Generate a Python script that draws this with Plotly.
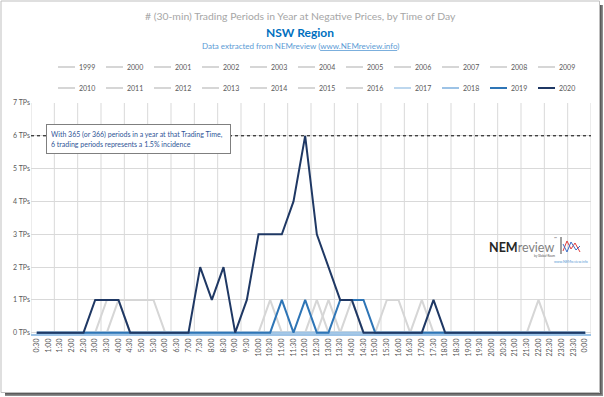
import plotly.graph_objects as go

# ---------------- data ----------------
time_labels = ["0:30", "1:00", "1:30", "2:00", "2:30", "3:00", "3:30", "4:00", "4:30", "5:00", "5:30", "6:00",
               "6:30", "7:00", "7:30", "8:00", "8:30", "9:00", "9:30", "10:00", "10:30", "11:00", "11:30", "12:00",
               "12:30", "13:00", "13:30", "14:00", "14:30", "15:00", "15:30", "16:00", "16:30", "17:00", "17:30", "18:00",
               "18:30", "19:00", "19:30", "20:00", "20:30", "21:00", "21:30", "22:00", "22:30", "23:00", "23:30", "0:00"]

years = ["1999", "2000", "2001", "2002", "2003", "2004", "2005", "2006", "2007", "2008", "2009",
         "2010", "2011", "2012", "2013", "2014", "2015", "2016", "2017", "2018", "2019", "2020"]

y1999 = [0,0,0,0,0,0,0,0,0,0,0,0, 0,0,0,0,0,0,0,0,0,0,0,0, 0,0,0,0,0,0,0,0,0,0,0,0, 0,0,0,0,0,0,0,0,0,0,0,0]
y2000 = [0,0,0,0,0,0,0,0,0,0,0,0, 0,0,0,0,0,0,0,0,0,0,0,0, 0,0,0,0,0,0,0,0,0,0,0,0, 0,0,0,0,0,0,0,0,0,0,0,0]
y2001 = [0,0,0,0,0,0,0,0,0,0,0,0, 0,0,0,0,0,0,0,0,0,0,0,0, 0,0,0,0,0,0,0,0,0,0,0,0, 0,0,0,0,0,0,0,0,0,0,0,0]
y2002 = [0,0,0,0,0,0,0,0,0,0,0,0, 0,0,0,0,0,0,0,0,0,0,0,0, 0,0,0,0,0,0,0,0,0,0,0,0, 0,0,0,0,0,0,0,0,0,0,0,0]
y2003 = [0,0,0,0,0,0,0,0,0,0,0,0, 0,0,0,0,0,0,0,0,0,0,0,0, 0,0,0,0,0,0,0,0,0,0,0,0, 0,0,0,0,0,0,0,0,0,0,0,0]
y2004 = [0,0,0,0,0,0,0,0,0,0,0,0, 0,0,0,0,0,0,0,0,0,0,0,0, 0,0,0,0,0,0,0,0,0,0,0,0, 0,0,0,0,0,0,0,0,0,0,0,0]
y2005 = [0,0,0,0,0,0,0,0,0,0,0,0, 0,0,0,0,0,0,0,0,0,0,0,0, 0,0,0,0,0,0,0,0,0,0,0,0, 0,0,0,0,0,0,0,0,0,0,0,0]
y2006 = [0,0,0,0,0,0,0,0,0,0,0,0, 0,0,0,0,0,0,0,0,0,0,0,0, 0,0,0,0,0,0,0,0,0,0,0,0, 0,0,0,0,0,0,0,0,0,0,0,0]
y2007 = [0,0,0,0,0,0,0,0,0,0,0,0, 0,0,0,0,0,0,0,0,0,0,0,0, 0,0,0,0,0,0,0,0,0,0,0,0, 0,0,0,0,0,0,0,0,0,0,0,0]
y2008 = [0,0,0,0,0,0,1,1,1,1,1,0, 0,0,0,0,0,0,0,0,0,0,0,0, 0,0,0,0,0,0,0,0,0,0,0,0, 0,0,0,0,0,0,0,0,0,0,0,0]
y2009 = [0,0,0,0,0,0,0,1,0,0,0,0, 0,0,0,0,0,0,0,0,0,0,0,0, 0,0,0,0,0,0,0,0,0,0,0,0, 0,0,0,0,0,0,0,0,0,0,0,0]
y2010 = [0,0,0,0,0,0,0,0,0,0,0,0, 0,0,0,0,0,0,0,0,0,0,0,0, 0,0,0,0,0,0,0,0,0,0,0,0, 0,0,0,0,0,0,0,0,0,0,0,0]
y2011 = [0,0,0,0,0,0,0,0,0,0,0,0, 0,0,0,0,0,0,0,0,0,0,0,0, 0,0,0,0,0,0,0,0,0,0,0,0, 0,0,0,0,0,0,0,0,0,0,0,0]
y2012 = [0,0,0,0,0,0,0,0,0,0,0,0, 0,0,0,0,0,0,0,0,0,0,0,0, 0,0,0,0,0,0,0,0,0,0,0,0, 0,0,0,0,0,0,0,0,0,0,0,0]
y2013 = [0,0,0,0,0,0,0,0,0,0,0,0, 0,0,0,0,0,0,0,0,0,0,0,0, 0,0,0,0,0,0,0,0,0,0,0,0, 0,0,0,0,0,0,0,0,0,0,0,0]
y2014 = [0,0,0,0,0,0,0,0,0,0,0,0, 0,0,0,0,0,0,0,0,0,0,0,0, 0,0,0,1,0,0,0,0,0,0,0,0, 0,0,0,0,0,0,0,1,0,0,0,0]
y2015 = [0,0,0,0,0,0,0,0,0,0,0,0, 0,0,0,0,0,0,0,0,0,0,0,0, 0,1,0,0,0,0,0,0,0,1,0,0, 0,0,0,0,0,0,0,0,0,0,0,0]
y2016 = [0,0,0,0,0,0,0,0,0,0,0,0, 0,0,0,0,0,0,0,0,1,0,0,0, 1,0,0,0,0,0,1,1,0,0,0,0, 0,0,0,0,0,0,0,0,0,0,0,0]
y2017 = [0,0,0,0,0,0,0,0,0,0,0,0, 0,0,0,0,0,0,0,0,0,0,0,0, 0,0,0,0,0,0,0,0,0,0,0,0, 0,0,0,0,0,0,0,0,0,0,0,0]
y2018 = [0,0,0,0,0,0,0,0,0,0,0,0, 0,0,0,0,0,0,0,0,0,0,0,0, 0,0,0,0,0,0,0,0,0,0,0,0, 0,0,0,0,0,0,0,0,0,0,0,0]
y2019 = [0,0,0,0,0,0,0,0,0,0,0,0, 0,0,0,0,0,0,0,0,0,1,0,1, 0,0,1,1,1,0,0,0,0,0,0,0, 0,0,0,0,0,0,0,0,0,0,0,0]
y2020 = [0,0,0,0,0,1,1,1,0,0,0,0, 0,0,2,1,2,0,1,3,3,3,4,6, 3,2,1,1,0,0,0,0,0,0,1,0, 0,0,0,0,0,0,0,0,0,0,0,0]

y_tick_values = [0, 1, 2, 3, 4, 5, 6, 7]
y_tick_labels = ["0 TPs", "1 TPs", "2 TPs", "3 TPs", "4 TPs", "5 TPs", "6 TPs", "7 TPs"]
reference_level = 6

series_values = [y1999, y2000, y2001, y2002, y2003, y2004, y2005, y2006, y2007, y2008, y2009,
                 y2010, y2011, y2012, y2013, y2014, y2015, y2016, y2017, y2018, y2019, y2020]

# ---------------- styles ----------------
GRAY = "#D6D6D6"
colors = [GRAY] * 18 + ["#BDD7EE", "#9DC3E6", "#2E75B6", "#1F3864"]
FONT = "Lato"

W, H = 604, 397
ML, MR, MT, MB = 31, 13, 103, 63
PW = W - ML - MR
PH = H - MT - MB


def px2x(px):
    return (px - ML) / PW


def py2y(py):
    return (H - MB - py) / PH


cat_pos = list(range(len(time_labels)))

fig = go.Figure()
for name, vals, col in zip(years, series_values, colors):
    fig.add_trace(go.Scatter(
        x=cat_pos, y=vals, name=name, mode="lines",
        line=dict(color=col, width=2),
        showlegend=False, hoverinfo="y+name",
    ))

shapes = []
annotations = []

# vertical gridlines every two categories (at category boundaries)
for k in range(0, len(time_labels) + 1, 2):
    b = k - 0.5
    shapes.append(dict(type="line", xref="x", yref="paper", x0=b, x1=b, y0=0, y1=1,
                       line=dict(color="#D9D9D9", width=1), layer="below"))

# dotted reference line
shapes.append(dict(type="line", xref="paper", yref="y", x0=0, x1=1, y0=reference_level, y1=reference_level,
                   line=dict(color="#000000", width=1, dash="dot"), layer="above"))

# manual legend
for i, (name, col) in enumerate(zip(years, colors)):
    row, c = divmod(i, 11)
    ly = 67 + 21 * row
    x0 = 58 + 48 * c
    shapes.append(dict(type="line", xref="paper", yref="paper",
                       x0=px2x(x0), x1=px2x(x0 + 17), y0=py2y(ly), y1=py2y(ly),
                       line=dict(color=col, width=2)))
    annotations.append(dict(text=name, xref="paper", yref="paper", x=px2x(x0 + 19), y=py2y(ly),
                            xanchor="left", yanchor="middle", showarrow=False,
                            font=dict(family=FONT, size=7, color="#595959")))

# titles
annotations.append(dict(text="# (30-min) Trading Periods in Year at Negative Prices, by Time of Day",
                        xref="paper", yref="paper", x=px2x(300), y=py2y(16), xanchor="center", yanchor="middle",
                        showarrow=False, font=dict(family=FONT, size=10.4, color="#A6A6A6")))
annotations.append(dict(text="<b>NSW Region</b>",
                        xref="paper", yref="paper", x=px2x(300), y=py2y(32), xanchor="center", yanchor="middle",
                        showarrow=False, font=dict(family=FONT, size=12, color="#0070C0")))
annotations.append(dict(text="Data extracted from NEMreview (<u>www.NEMreview.info</u>)",
                        xref="paper", yref="paper", x=px2x(300), y=py2y(46), xanchor="center", yanchor="middle",
                        showarrow=False, font=dict(family=FONT, size=8, color="#5B9BD5")))

# note box
annotations.append(dict(text="With 365 (or 366) periods in a year at that Trading Time,<br>6 trading periods represents a 1.5% incidence",
                        xref="paper", yref="paper", x=px2x(45.5), y=py2y(124), xanchor="left", yanchor="top",
                        align="left", showarrow=False, width=175, height=20, borderpad=4,
                        bgcolor="#FFFFFF", bordercolor="#7F7F7F", borderwidth=1,
                        font=dict(family=FONT, size=7, color="#2F5597")))

# NEMreview logo
annotations.append(dict(text="<b>NEM</b><span style='color:#7F7F7F'>review</span>",
                        xref="paper", yref="paper", x=px2x(487), y=py2y(247), xanchor="left", yanchor="middle",
                        showarrow=False, font=dict(family=FONT, size=12.5, color="#262626")))
annotations.append(dict(text="™", xref="paper", yref="paper", x=px2x(552), y=py2y(238), xanchor="left",
                        yanchor="middle", showarrow=False, font=dict(family=FONT, size=4, color="#595959")))
annotations.append(dict(text="by Global-Roam", xref="paper", yref="paper", x=px2x(532), y=py2y(256), xanchor="left",
                        yanchor="middle", showarrow=False, font=dict(family=FONT, size=3, color="#595959")))
annotations.append(dict(text="www.NEMreview.info", xref="paper", yref="paper", x=px2x(552), y=py2y(262),
                        xanchor="left", yanchor="middle", showarrow=False,
                        font=dict(family=FONT, size=3.5, color="#5B9BD5")))
shapes.append(dict(type="line", xref="paper", yref="paper", x0=px2x(561), x1=px2x(561), y0=py2y(237), y1=py2y(254),
                   line=dict(color="#404040", width=1)))
red_pts = [(563, 251), (567, 241), (571, 249), (575, 243), (580, 252)]
blue_pts = [(563, 244), (567, 252), (571, 242), (576, 250), (580, 246)]
for pts, col in ((red_pts, "#E03C3C"), (blue_pts, "#3C6EC8")):
    path = "M " + " L ".join(f"{px2x(a):.5f},{py2y(b):.5f}" for a, b in pts)
    shapes.append(dict(type="path", xref="paper", yref="paper", path=path, line=dict(color=col, width=1)))

# outer frame with shadow
shapes.append(dict(type="rect", xref="paper", yref="paper", x0=px2x(600), x1=px2x(603), y0=py2y(5), y1=py2y(396),
                   line=dict(width=0), fillcolor="#8C8C8C", layer="below"))
shapes.append(dict(type="rect", xref="paper", yref="paper", x0=px2x(5), x1=px2x(603), y0=py2y(393), y1=py2y(396),
                   line=dict(width=0), fillcolor="#8C8C8C", layer="below"))
shapes.append(dict(type="rect", xref="paper", yref="paper", x0=px2x(600), x1=px2x(601.5), y0=py2y(5), y1=py2y(394),
                   line=dict(width=0), fillcolor="#5A5A5A", layer="below"))
shapes.append(dict(type="rect", xref="paper", yref="paper", x0=px2x(5), x1=px2x(601.5), y0=py2y(393), y1=py2y(394.5),
                   line=dict(width=0), fillcolor="#5A5A5A", layer="below"))
shapes.append(dict(type="rect", xref="paper", yref="paper", x0=px2x(1), x1=px2x(599.5), y0=py2y(1), y1=py2y(392.5),
                   line=dict(color="#BFBFBF", width=1), fillcolor="rgba(0,0,0,0)", layer="below"))

fig.update_layout(
    width=W, height=H,
    margin=dict(l=ML, r=MR, t=MT, b=MB, autoexpand=False),
    paper_bgcolor="#FFFFFF", plot_bgcolor="#FFFFFF",
    showlegend=False,
    shapes=shapes, annotations=annotations,
    font=dict(family=FONT, color="#595959"),
)
fig.update_xaxes(range=[-0.5, len(time_labels) - 0.5], tickvals=cat_pos, ticktext=time_labels,
                 showgrid=False, zeroline=False,
                 showline=True, linecolor="#9DC3E6", linewidth=1.5,
                 tickangle=-90, ticks="", tickfont=dict(family=FONT, size=7, color="#595959"))
fig.update_yaxes(range=[-0.04, 7], tickvals=y_tick_values, ticktext=y_tick_labels, showgrid=True,
                 gridcolor="#D9D9D9", gridwidth=1, zeroline=False, showline=False, ticks="",
                 tickfont=dict(family=FONT, size=7, color="#595959"))

fig.write_html("out.html", config={"displayModeBar": False},
               post_script="document.body.style.margin='0px';document.body.style.overflow='hidden';")
